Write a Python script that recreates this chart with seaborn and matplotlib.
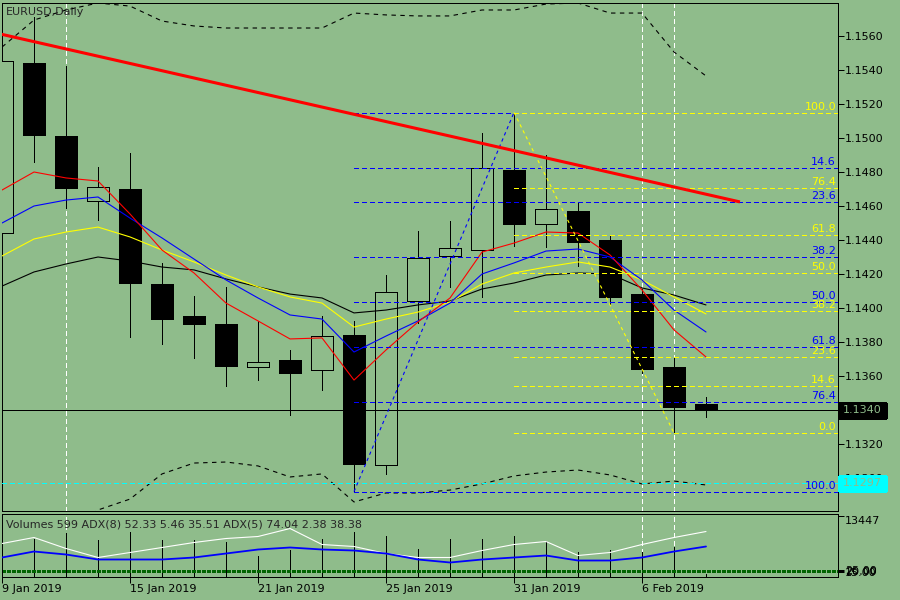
import numpy as np
import pandas as pd
import matplotlib
matplotlib.use('Agg')
import matplotlib.pyplot as plt
import matplotlib.transforms as mtransforms
from matplotlib.patches import Rectangle
import seaborn as sns

# 1. dados (EURUSD diario)
datas = ['9 Jan', '10 Jan', '11 Jan', '14 Jan', '15 Jan', '16 Jan', '17 Jan', '18 Jan',
         '21 Jan', '22 Jan', '23 Jan', '24 Jan', '25 Jan', '28 Jan', '29 Jan', '30 Jan',
         '31 Jan', '1 Feb', '4 Feb', '5 Feb', '6 Feb', '7 Feb', '8 Feb']
abertura = [1.14441, 1.15441, 1.15012, 1.14629, 1.14700, 1.14141, 1.13953, 1.13906,
            1.13653, 1.13694, 1.13635, 1.13841, 1.13076, 1.14041, 1.14306, 1.14341,
            1.14812, 1.14494, 1.14571, 1.14400, 1.14082, 1.13653, 1.13435]
maxima = [1.15620, 1.15712, 1.15424, 1.14829, 1.14912, 1.14265, 1.14071, 1.14124,
          1.13924, 1.13753, 1.13953, 1.13924, 1.14194, 1.14453, 1.14512, 1.15029,
          1.15150, 1.14900, 1.14624, 1.14424, 1.14112, 1.13706, 1.13476]
minima = [1.14380, 1.14859, 1.14588, 1.14518, 1.13829, 1.13788, 1.13706, 1.13541,
          1.13576, 1.13371, 1.13518, 1.12918, 1.13024, 1.13912, 1.14124, 1.14065,
          1.14365, 1.14359, 1.14247, 1.14024, 1.13618, 1.13265, 1.13359]
fechamento = [1.15453, 1.15018, 1.14706, 1.14712, 1.14147, 1.13935, 1.13906, 1.13659,
              1.13682, 1.13618, 1.13835, 1.13082, 1.14094, 1.14294, 1.14353, 1.14824,
              1.14494, 1.14582, 1.14388, 1.14065, 1.13641, 1.13418, 1.13400]

# medias moveis
ma_vermelha = [1.14694, 1.14800, 1.14765, 1.14747, 1.14553, 1.14341, 1.14206, 1.14029,
               1.13924, 1.13818, 1.13824, 1.13576, 1.13753, 1.13918, 1.14059, 1.14329,
               1.14382, 1.14447, 1.14441, 1.14312, 1.14106, 1.13871, 1.13712]
ma_azul = [1.14500, 1.14600, 1.14635, 1.14653, 1.14529, 1.14412, 1.14288, 1.14165,
           1.14059, 1.13959, 1.13935, 1.13741, 1.13835, 1.13924, 1.14029, 1.14200,
           1.14265, 1.14335, 1.14347, 1.14300, 1.14165, 1.13988, 1.13859]
ma_amarela = [1.14306, 1.14406, 1.14447, 1.14476, 1.14418, 1.14341, 1.14271, 1.14194,
              1.14124, 1.14065, 1.14029, 1.13888, 1.13935, 1.13976, 1.14035, 1.14141,
              1.14206, 1.14241, 1.14271, 1.14241, 1.14165, 1.14065, 1.13965]
ma_preta = [1.14129, 1.14212, 1.14259, 1.14300, 1.14276, 1.14241, 1.14224, 1.14171,
            1.14124, 1.14082, 1.14059, 1.13971, 1.13988, 1.14018, 1.14041, 1.14112,
            1.14147, 1.14194, 1.14206, 1.14200, 1.14118, 1.14076, 1.14018]
banda_sup = [1.15535, 1.15694, 1.15753, 1.15794, 1.15776, 1.15688, 1.15659, 1.15647,
             1.15647, 1.15647, 1.15647, 1.15735, 1.15724, 1.15718, 1.15718, 1.15753,
             1.15753, 1.15788, 1.15794, 1.15735, 1.15735, 1.15506, 1.15365]
banda_inf = [1.12459, 1.12547, 1.12694, 1.12812, 1.12876, 1.13024, 1.13088, 1.13094,
             1.13071, 1.13006, 1.13024, 1.12859, 1.12912, 1.12912, 1.12929, 1.12965,
             1.13012, 1.13035, 1.13047, 1.13018, 1.12965, 1.12982, 1.12959]

# fibonacci azul (minimo 24 Jan -> maximo 31 Jan) e amarelo (31 Jan -> 7 Feb)
fibo_azul_txt = ['14.6', '23.6', '38.2', '50.0', '61.8', '76.4', '100.0']
fibo_azul_preco = [1.14824, 1.14624, 1.14298, 1.14035, 1.13772, 1.13446, 1.12920]
fibo_azul_topo = 1.15150
fibo_amarelo_txt = ['0.0', '14.6', '23.6', '38.2', '50.0', '61.8', '76.4', '100.0']
fibo_amarelo_preco = [1.13265, 1.13540, 1.13710, 1.13985, 1.14208, 1.14430, 1.14705, 1.15150]
diag_azul_x = [11, 16]
diag_azul_y = [1.12920, 1.15150]
diag_amarela_x = [16, 21]
diag_amarela_y = [1.15150, 1.13265]

# linha de tendencia vermelha
tendencia_x = [-0.06, 23.06]
tendencia_y = [1.15612, 1.14624]

preco_atual = 1.1340
preco_ciano = 1.1297
linhas_verticais = [2, 20, 21]
precos_eixo = [1.1560, 1.1540, 1.1520, 1.1500, 1.1480, 1.1460, 1.1440, 1.1420,
               1.1400, 1.1380, 1.1360, 1.1340, 1.1320, 1.1300]

# painel inferior
volumes = [8400, 8375, 9698, 8155, 9918, 8155, 8155, 7714, 4628, 5951, 8375, 9918,
           9036, 6171, 8375, 8375, 9036, 7934, 5510, 5951, 5510, 6612, 599]
linha_branca = [7273, 8596, 6171, 4188, 5290, 6392, 7494, 8375, 8816, 10579, 7053, 6612,
                5069, 4188, 4188, 5730, 7053, 7714, 4628, 5290, 7053, 8596, 9918]
linha_azul = [4188, 5510, 4849, 3747, 3747, 3747, 4188, 5069, 5951, 6392, 5951, 5730,
              5069, 3747, 3086, 3747, 4188, 4628, 3526, 3526, 4188, 5510, 6612]
niveis_adx = [1543, 1210, 882]
niveis_adx_txt = ['25.00', '20.00', '15.00']
vol_max = 13447
datas_eixo = ['9 Jan 2019', '15 Jan 2019', '21 Jan 2019', '25 Jan 2019', '31 Jan 2019', '6 Feb 2019']
datas_eixo_idx = [0, 4, 8, 12, 16, 20]

#2. estilo
fundo = '#8FBC8B'
fino = 0.72  # ~1 pixel
sns.set_theme(style='white', rc={'axes.facecolor': fundo, 'figure.facecolor': fundo,
                                 'axes.edgecolor': 'black', 'axes.linewidth': fino,
                                 'lines.linewidth': fino, 'patch.antialiased': False})
plt.rcParams['font.family'] = ['DejaVu Sans']

fig = plt.figure(figsize=(9, 6), dpi=100)
ax = fig.add_axes([1.7 / 900, 1 - 510.5 / 600, 836.3 / 900, 508 / 600])
ax2 = fig.add_axes([1.7 / 900, 1 - 576.5 / 600, 836.3 / 900, 63 / 600])

df = pd.DataFrame({'x': np.arange(len(datas)), 'o': abertura, 'h': maxima,
                   'l': minima, 'c': fechamento})
tracejado = (0, (5, 3))

#3. candles (linhas retas sem suavizacao)
ax.vlines(df['x'], df['l'], df['h'], color='black', linewidth=fino, zorder=2, antialiased=False)
alta = df['c'] >= df['o']
corpo = (df['c'] - df['o']).abs().clip(lower=0.00004)
base = df[['o', 'c']].min(axis=1)
ax.bar(df['x'], corpo, bottom=base, width=0.69,
       color=np.where(alta, fundo, 'black'), edgecolor='black', linewidth=fino, zorder=3)

#4. medias e bandas
for serie, cor in [(ma_preta, 'black'), (ma_amarela, '#FFFF00'), (ma_azul, '#0000FF'), (ma_vermelha, '#FF0000')]:
    sns.lineplot(x=df['x'], y=serie, color=cor, linewidth=0.8, ax=ax, zorder=4)
for serie in [banda_sup, banda_inf]:
    sns.lineplot(x=df['x'], y=serie, color='black', linewidth=0.8, ax=ax, zorder=4, linestyle=(0, (4, 4)))

#5. fibonacci
borda = 30
for p in [fibo_azul_topo] + fibo_azul_preco:
    ax.plot([diag_azul_x[0], borda], [p, p], color='#0000FF', linewidth=fino, ls=tracejado,
            zorder=5, antialiased=False)
for p in fibo_amarelo_preco:
    ax.plot([diag_amarela_x[0], borda], [p, p], color='#FFFF00', linewidth=fino, ls=tracejado,
            zorder=5, antialiased=False)
ax.plot(diag_azul_x, diag_azul_y, color='#0000FF', linewidth=0.8, ls=(0, (3, 3)), zorder=5)
ax.plot(diag_amarela_x, diag_amarela_y, color='#FFFF00', linewidth=0.8, ls=(0, (3, 3)), zorder=5)
for txt, p in zip(fibo_azul_txt, fibo_azul_preco):
    ax.annotate(txt, xy=(1, p), xycoords=('axes fraction', 'data'), xytext=(-2, 1),
                textcoords='offset pixels', ha='right', va='bottom', color='#0000FF', fontsize=8, zorder=7)
for txt, p in zip(fibo_amarelo_txt, fibo_amarelo_preco):
    ax.annotate(txt, xy=(1, p), xycoords=('axes fraction', 'data'), xytext=(-2, 1),
                textcoords='offset pixels', ha='right', va='bottom', color='#FFFF00', fontsize=8, zorder=7)

#6. linhas horizontais, verticais e tendencia
ax.axhline(preco_atual, color='black', linewidth=fino, zorder=4, antialiased=False)
ax.axhline(preco_ciano, color='#00FFFF', linewidth=fino, ls=tracejado, zorder=4, antialiased=False)
for v in linhas_verticais:
    ax.axvline(v, color='white', linewidth=fino, ls=tracejado, zorder=1, antialiased=False)
    ax2.axvline(v, color='white', linewidth=fino, ls=tracejado, zorder=1, antialiased=False)
ax.plot(tendencia_x, tendencia_y, color='#FF0000', linewidth=2.2, zorder=6, solid_capstyle='butt')

ax.set_xlim(-0.01, 26.125)
ax.set_ylim(1.1560 - 474.5 / 17000, 1.1560 + 33.5 / 17000)
ax.yaxis.tick_right()
ax.set_yticks(precos_eixo)
# o rotulo 1.1340 fica escondido pela caixa do preco atual
ax.set_yticklabels(['' if abs(p - preco_atual) < 1e-6 else f'{p:.4f}' for p in precos_eixo])
ax.tick_params(axis='y', direction='out', length=4, width=fino, pad=1, labelsize=8, colors='black', right=True)
ax.tick_params(axis='x', bottom=False, labelbottom=False)
ax.set_xlabel('')
ax.set_ylabel('')
ax.text(0.0054, 0.981, 'EURUSD,Daily', transform=ax.transAxes, fontsize=8, va='center', ha='left', zorder=8)

#7. painel inferior (volumes)
ax2.vlines(df['x'], 0, volumes, color='black', linewidth=fino, zorder=2, antialiased=False)
sns.lineplot(x=df['x'], y=linha_branca, color='white', linewidth=0.8, ax=ax2, zorder=3)
sns.lineplot(x=df['x'], y=linha_azul, color='#0000FF', linewidth=1.3, ax=ax2, zorder=3)
for n in niveis_adx:
    ax2.axhline(n, color='#006400', linewidth=fino, ls=(0, (3, 2)), zorder=2, antialiased=False)
ax2.set_xlim(-0.01, 26.125)
ax2.set_ylim(0, vol_max * 63 / 61)
ax2.yaxis.tick_right()
ax2.set_yticks([vol_max] + niveis_adx)
ax2.set_yticklabels([str(vol_max)] + niveis_adx_txt)
ax2.get_yticklabels()[0].set_va('top')
ax2.tick_params(axis='y', direction='out', length=4, width=fino, pad=1, labelsize=8, colors='black', right=True)
ax2.set_xticks(datas_eixo_idx)
ax2.set_xticklabels(datas_eixo, ha='left')
ax2.tick_params(axis='x', direction='out', length=4, width=fino, pad=1.5, labelsize=8, colors='black', bottom=True)
ax2.set_xlabel('')
ax2.set_ylabel('')
ax2.text(4 / 836, 0.833, 'Volumes 599 ADX(8) 52.33 5.46 35.51 ADX(5) 74.04 2.38 38.38',
         transform=ax2.transAxes, fontsize=8, va='center', ha='left', zorder=8)
for a in (ax, ax2):
    for s in a.spines.values():
        s.set_visible(True)
        s.set_color('black')
        s.set_linewidth(fino)
        s.set_antialiased(False)

#8. caixas de preco no eixo direito
pix = mtransforms.IdentityTransform()
fig.canvas.draw()
for preco, cor in [(preco_atual, 'black'), (preco_ciano, '#00FFFF')]:
    yp = ax.transData.transform((0, preco))[1]
    fig.add_artist(Rectangle((839, yp - 7.5), 47, 15, transform=pix, facecolor=cor, edgecolor=cor, zorder=10))
    fig.text(862.5, yp, f'{preco:.4f}', transform=pix, ha='center', va='center',
             fontsize=8, color=fundo, zorder=11)

plt.savefig('out.png', dpi=100)
